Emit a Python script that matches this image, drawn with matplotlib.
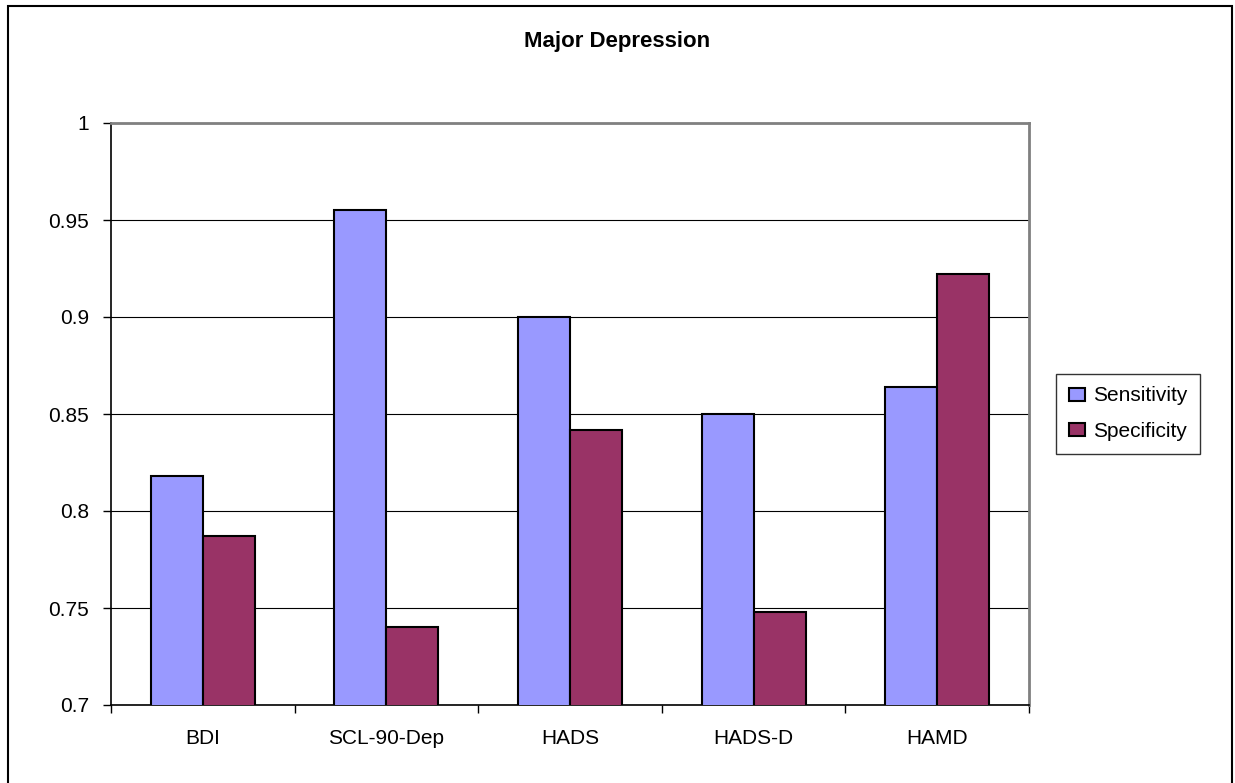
import numpy as np
import matplotlib.pyplot as plt
from matplotlib.patches import Rectangle

plt.rcParams['font.family'] = ['Liberation Sans', 'DejaVu Sans']

categories = ['BDI', 'SCL-90-Dep', 'HADS', 'HADS-D', 'HAMD']
sensitivity = [0.818, 0.955, 0.900, 0.850, 0.864]
specificity = [0.787, 0.740, 0.842, 0.748, 0.922]
series_names = ['Sensitivity', 'Specificity']
y_ticks = [0.7, 0.75, 0.8, 0.85, 0.9, 0.95, 1]
y_labels = ['0.7', '0.75', '0.8', '0.85', '0.9', '0.95', '1']


def main():
	W, H = 1235, 783
	fig = plt.figure(figsize=(W / 100, H / 100), dpi=100)
	ax = fig.add_axes([111 / W, 1 - 705 / H, 918 / W, 582 / H])

	x = np.arange(len(categories))
	width = 0.283
	ax.bar(x - width / 2, sensitivity, width, bottom=0, color='#9999FF',
		edgecolor='black', linewidth=1.5, label=series_names[0], zorder=3)
	ax.bar(x + width / 2, specificity, width, bottom=0, color='#993366',
		edgecolor='black', linewidth=1.5, label=series_names[1], zorder=3)

	ax.set_xlim(-0.5, len(categories) - 0.5)
	ax.set_ylim(0.7, 1.0)

	ax.set_yticks(y_ticks)
	ax.set_yticklabels(y_labels, fontsize=15)
	ax.tick_params(axis='y', direction='out', length=6, width=1, pad=10)
	ax.yaxis.grid(True, color='black', linewidth=0.8, zorder=0)
	ax.set_axisbelow(True)

	# labels sit mid-category, tick marks sit on the boundaries
	ax.set_xticks(x)
	ax.set_xticklabels(categories, fontsize=15)
	ax.tick_params(axis='x', which='major', length=0, pad=17)
	ax.set_xticks(np.arange(len(categories) + 1) - 0.5, minor=True)
	ax.tick_params(axis='x', which='minor', direction='out', length=6, width=1)

	for side in ['left', 'bottom']:
		ax.spines[side].set_color('black')
		ax.spines[side].set_linewidth(1.2)
	for side in ['top', 'right']:
		ax.spines[side].set_color('#808080')
		ax.spines[side].set_linewidth(2)

	fig.text(0.5, 1 - 41 / H, 'Major Depression', ha='center', va='center',
		fontsize=16, fontweight='bold')

	leg = fig.legend(loc='upper left', bbox_to_anchor=(1056 / W, 1 - 374 / H),
		bbox_transform=fig.transFigure, borderaxespad=0,
		fontsize=15, frameon=True, fancybox=False, handlelength=0.8,
		handleheight=0.6, handletextpad=0.4, borderpad=0.6, labelspacing=0.8)
	leg.get_frame().set_edgecolor('black')
	leg.get_frame().set_linewidth(1)

	# outer chart border, open at the bottom edge
	fig.patches.append(Rectangle((8 / W, -0.02), 1224 / W, 0.02 + 777 / H,
		transform=fig.transFigure, fill=False, edgecolor='black', linewidth=1.5))

	fig.savefig('out.png', dpi=100)


if __name__ == '__main__':
	main()
